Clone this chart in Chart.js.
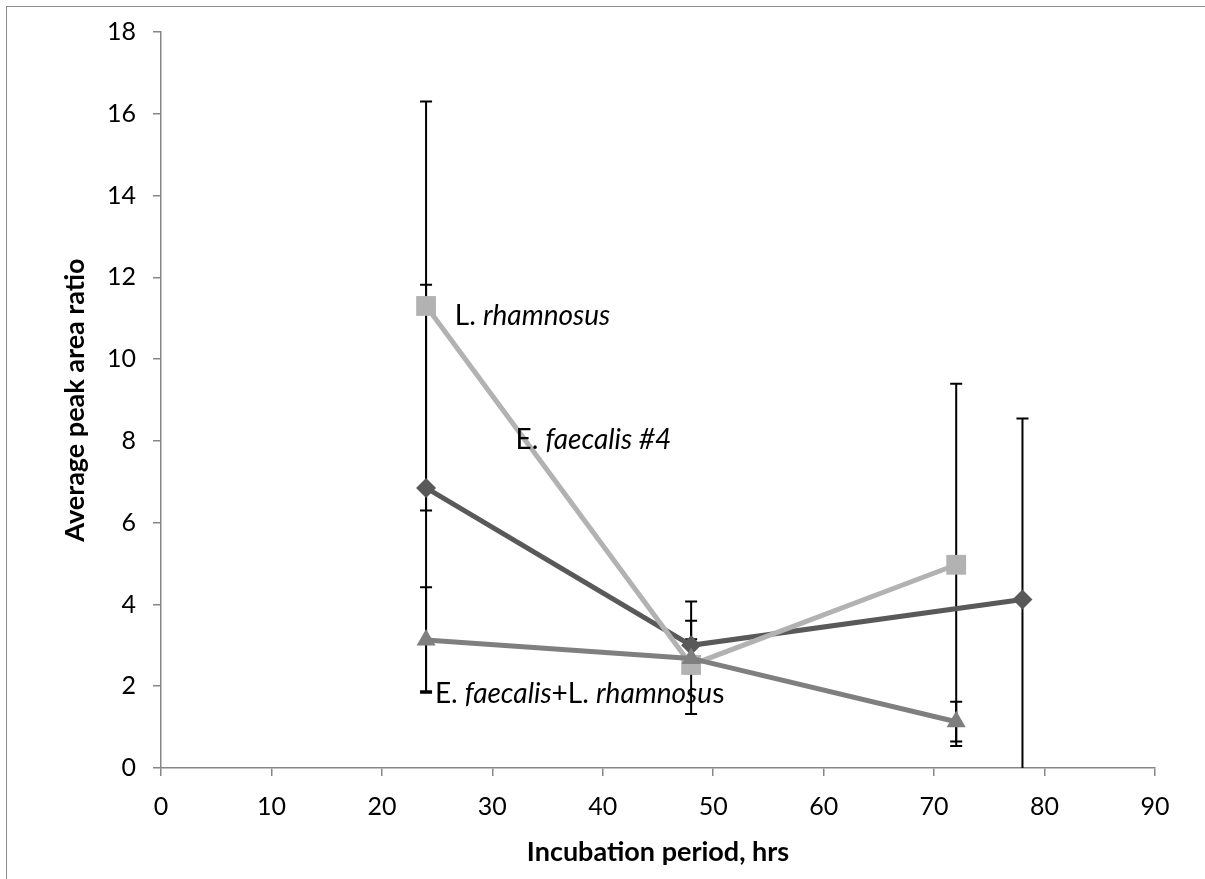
<!DOCTYPE html>
<html>
<head>
<meta charset="utf-8">
<script src="https://cdn.jsdelivr.net/npm/chart.js@4/dist/chart.umd.min.js"></script>
<style>
  body { margin: 0; background: #fff; }
  #frame { position: absolute; left: 6px; top: 6px; width: 1220px; height: 900px; border: 1.5px solid #8c8c8c; }
  #chartCanvas { position: absolute; left: 0; top: 0; }
</style>
</head>
<body>
<div id="frame"></div>
<canvas id="chartCanvas" width="1205" height="879"></canvas>
<script>
// incubation hours and average peak area ratio per culture
const fae4Hours = [24, 48, 78];
const fae4Ratio = [6.85, 3.0, 4.12];
const fae4ErrUp = [4.97, 1.07, 4.43];
const fae4ErrDown = [4.97, 0.3, 4.43];

const rhamHours = [24, 48, 72];
const rhamRatio = [11.3, 2.52, 4.97];
const rhamErrUp = [5.0, 0.63, 4.43];
const rhamErrDown = [5.0, 0.2, 4.43];

const mixHours = [24, 48, 72];
const mixRatio = [3.13, 2.68, 1.13];
const mixErrUp = [1.29, 0.92, 0.49];
const mixErrDown = [1.29, 1.36, 0.48];

const xTicks = [0, 10, 20, 30, 40, 50, 60, 70, 80, 90];
const yTicks = [0, 2, 4, 6, 8, 10, 12, 14, 16, 18];

// in-plot series labels: [x, y, parts]
const seriesLabels = [
  [26.6, 11.05, [['L. ', false], ['rhamnosus', true]]],
  [32.1, 8.02, [['E. ', false], ['faecalis #4', true]]],
  [24.8, 1.82, [['E. ', false], ['faecalis', true], ['+L. ', false], ['rhamnosu', true], ['s', false]]]
];

const FONT = 'Lato, "Open Sans", sans-serif';

function toPoints(xs, ys) {
  return xs.map((x, i) => ({ x: x, y: ys[i] }));
}

const errorBarPlugin = {
  id: 'errorBars',
  beforeDatasetsDraw(chart) {
    const { ctx, chartArea, scales } = chart;
    ctx.save();
    ctx.beginPath();
    ctx.rect(chartArea.left, chartArea.top, chartArea.right - chartArea.left, chartArea.bottom - chartArea.top);
    ctx.clip();
    ctx.strokeStyle = '#000';
    ctx.lineWidth = 2;
    chart.data.datasets.forEach(ds => {
      ds.data.forEach((p, i) => {
        const px = scales.x.getPixelForValue(p.x);
        const top = scales.y.getPixelForValue(p.y + ds.errUp[i]);
        const bot = scales.y.getPixelForValue(p.y - ds.errDown[i]);
        ctx.beginPath();
        ctx.moveTo(px, top);
        ctx.lineTo(px, bot);
        ctx.moveTo(px - 6, top);
        ctx.lineTo(px + 6, top);
        ctx.moveTo(px - 6, bot);
        ctx.lineTo(px + 6, bot);
        ctx.stroke();
      });
    });
    ctx.restore();
  }
};

const labelPlugin = {
  id: 'seriesLabels',
  afterDatasetsDraw(chart) {
    const { ctx, scales } = chart;
    ctx.save();
    ctx.fillStyle = '#000';
    ctx.textBaseline = 'middle';
    ctx.textAlign = 'left';
    seriesLabels.forEach(([lx, ly, parts]) => {
      let px = scales.x.getPixelForValue(lx);
      const py = scales.y.getPixelForValue(ly);
      parts.forEach(([txt, italic]) => {
        ctx.font = (italic ? 'italic ' : '') + '28px ' + FONT;
        ctx.fillText(txt, px, py);
        px += ctx.measureText(txt).width;
      });
    });
    ctx.restore();
  }
};

const ctx = document.getElementById('chartCanvas').getContext('2d');

const chart = new Chart(ctx, {
  type: 'scatter',
  data: {
    datasets: [
      {
        label: 'E. faecalis+L. rhamnosus',
        data: toPoints(mixHours, mixRatio),
        errUp: mixErrUp,
        errDown: mixErrDown,
        borderColor: '#7f7f7f',
        backgroundColor: '#7f7f7f',
        pointStyle: 'triangle',
        pointRadius: 11,
        pointBorderWidth: 0
      },
      {
        label: 'L. rhamnosus',
        data: toPoints(rhamHours, rhamRatio),
        errUp: rhamErrUp,
        errDown: rhamErrDown,
        borderColor: '#b2b2b2',
        backgroundColor: '#b2b2b2',
        pointStyle: 'rect',
        pointRadius: 14,
        pointBorderWidth: 0
      },
      {
        label: 'E. faecalis #4',
        data: toPoints(fae4Hours, fae4Ratio),
        errUp: fae4ErrUp,
        errDown: fae4ErrDown,
        borderColor: '#595959',
        backgroundColor: '#595959',
        pointStyle: 'rectRot',
        pointRadius: 10,
        pointBorderWidth: 0
      }
    ]
  },
  options: {
    responsive: false,
    animation: false,
    showLine: true,
    layout: { padding: { left: 0, right: 50, top: 24, bottom: 0 } },
    elements: {
      line: { borderWidth: 5, tension: 0, fill: false }
    },
    plugins: {
      legend: { display: false },
      tooltip: { enabled: false }
    },
    scales: {
      x: {
        type: 'linear',
        min: 0,
        max: 90,
        afterBuildTicks: scale => { scale.ticks = xTicks.map(v => ({ value: v })); },
        afterFit: scale => { scale.height = 111; },
        ticks: { color: '#000', padding: 16, maxRotation: 0, font: { family: FONT, size: 25 } },
        grid: { drawOnChartArea: false, drawTicks: true, tickLength: 8, color: '#868686', lineWidth: 1.5 },
        border: { color: '#868686', width: 1.5 },
        title: {
          display: true,
          text: 'Incubation period, hrs',
          color: '#000',
          padding: { top: 0, bottom: 11 },
          font: { family: FONT, size: 27, weight: 'bold' }
        }
      },
      y: {
        type: 'linear',
        min: 0,
        max: 18,
        afterBuildTicks: scale => { scale.ticks = yTicks.map(v => ({ value: v })); },
        afterFit: scale => { scale.width = 161; },
        ticks: { color: '#000', padding: 17, font: { family: FONT, size: 25 } },
        grid: { drawOnChartArea: false, drawTicks: true, tickLength: 8, color: '#868686', lineWidth: 1.5 },
        border: { color: '#868686', width: 1.5 },
        title: {
          display: true,
          text: 'Average peak area ratio',
          color: '#000',
          padding: { top: 59, bottom: 0 },
          font: { family: FONT, size: 27, weight: 'bold' }
        }
      }
    }
  },
  plugins: [errorBarPlugin, labelPlugin]
});
</script>
</body>
</html>
